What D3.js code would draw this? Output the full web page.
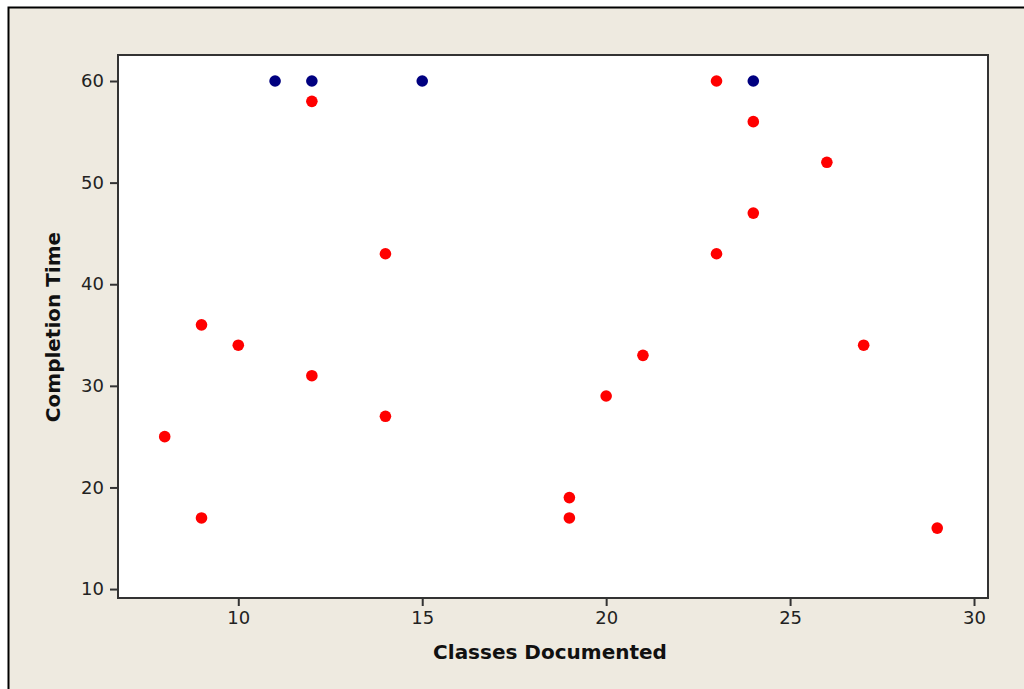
<!DOCTYPE html>
<html>
<head>
<meta charset="utf-8">
<title>Completion Time vs Classes Documented</title>
<style>
  body { margin: 0; background: #fff; }
  svg { display: block; }
</style>
</head>
<body>
<script src="https://d3js.org/d3.v7.min.js"></script>
<script>
var blueX = [11, 12, 15, 24];
var blueY = [60, 60, 60, 60];
var redX = [12, 23, 24, 26, 24, 14, 23, 9, 10, 27, 21, 12, 20, 14, 8, 19, 9, 19, 29];
var redY = [58, 60, 56, 52, 47, 43, 43, 36, 34, 34, 33, 31, 29, 27, 25, 19, 17, 17, 16];
var xTicks = [10, 15, 20, 25, 30];
var yTicks = [10, 20, 30, 40, 50, 60];

var W = 1024, H = 689;
var plotL = 118, plotT = 55, plotR = 988, plotB = 598;

var svg = d3.select('body').append('svg')
    .attr('width', W)
    .attr('height', H);

// window frame
svg.append('rect')
    .attr('x', 8).attr('y', 7)
    .attr('width', W - 8).attr('height', H - 7)
    .attr('fill', '#eeeae0');
svg.append('path')
    .attr('d', 'M8.5,' + H + 'V7.5H' + W)
    .attr('fill', 'none')
    .attr('stroke', '#000')
    .attr('stroke-width', 2);

var x = d3.scaleLinear().domain([6.73, 30.38]).range([plotL, plotR]);
var y = d3.scaleLinear().domain([9.12, 62.56]).range([plotB, plotT]);

svg.append('rect')
    .attr('x', plotL).attr('y', plotT)
    .attr('width', plotR - plotL).attr('height', plotB - plotT)
    .attr('fill', '#fff')
    .attr('stroke', '#333')
    .attr('stroke-width', 2);

var xAxis = d3.axisBottom(x).tickValues(xTicks).tickSize(7).tickSizeOuter(0).tickPadding(5);
var yAxis = d3.axisLeft(y).tickValues(yTicks).tickSize(7).tickSizeOuter(0).tickPadding(6);

var gx = svg.append('g')
    .attr('transform', 'translate(0,' + (plotB + 1) + ')')
    .call(xAxis);
var gy = svg.append('g')
    .attr('transform', 'translate(' + (plotL - 1) + ',0)')
    .call(yAxis);

[gx, gy].forEach(function(g) {
    g.select('.domain').remove();
    g.selectAll('line').attr('stroke', '#333').attr('stroke-width', 2);
    g.selectAll('text')
        .attr('fill', '#222')
        .style('font-family', 'DejaVu Sans, sans-serif')
        .style('font-size', '18px');
});

svg.append('text')
    .attr('x', 550).attr('y', 659)
    .attr('text-anchor', 'middle')
    .style('font-family', 'DejaVu Sans, sans-serif')
    .style('font-weight', 'bold')
    .style('font-size', '20px')
    .attr('fill', '#111')
    .text('Classes Documented');

svg.append('text')
    .attr('transform', 'translate(60,327) rotate(-90)')
    .attr('text-anchor', 'middle')
    .style('font-family', 'DejaVu Sans, sans-serif')
    .style('font-weight', 'bold')
    .style('font-size', '20px')
    .attr('fill', '#111')
    .text('Completion Time');

svg.append('g').selectAll('circle')
    .data(d3.range(redX.length))
    .enter().append('circle')
    .attr('cx', function(i) { return x(redX[i]); })
    .attr('cy', function(i) { return y(redY[i]); })
    .attr('r', 5.8)
    .attr('fill', '#ff0000');

svg.append('g').selectAll('circle')
    .data(d3.range(blueX.length))
    .enter().append('circle')
    .attr('cx', function(i) { return x(blueX[i]); })
    .attr('cy', function(i) { return y(blueY[i]); })
    .attr('r', 5.8)
    .attr('fill', '#000080');
</script>
</body>
</html>
